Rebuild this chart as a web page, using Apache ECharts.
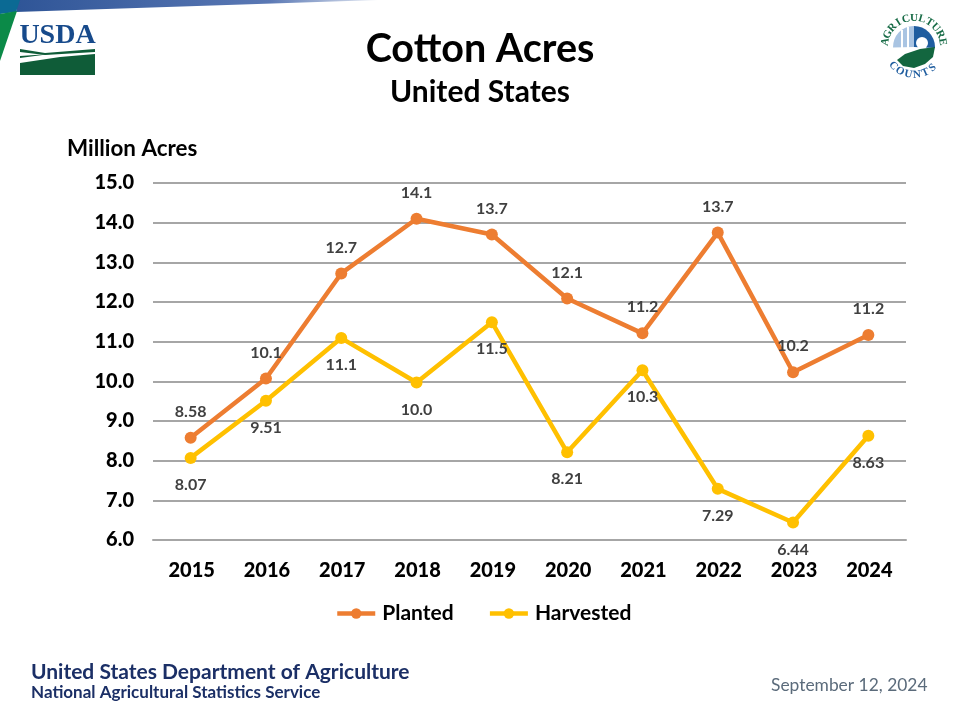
<!DOCTYPE html>
<html>
<head>
<meta charset="utf-8">
<style>html,body{margin:0;padding:0;background:#fff}#c{width:960px;height:720px}</style>
<script src="https://cdn.jsdelivr.net/npm/echarts@6/dist/echarts.min.js"></script>
</head>
<body>
<div id="c"></div>
<script>
const years = ['2015','2016','2017','2018','2019','2020','2021','2022','2023','2024'];
const planted = [8.58,10.07,12.72,14.10,13.70,12.09,11.21,13.75,10.23,11.17];
const harvested = [8.07,9.51,11.09,9.97,11.49,8.21,10.28,7.29,6.44,8.63];
const plantedLabels = ['8.58','10.1','12.7','14.1','13.7','12.1','11.2','13.7','10.2','11.2'];
const harvestedLabels = ['8.07','9.51','11.1','10.0','11.5','8.21','10.3','7.29','6.44','8.63'];

const FONT = 'Lato, "Open Sans", sans-serif';
const chart = echarts.init(document.getElementById('c'));

function arcText(word, cx, cy, r, startDeg, stepDeg, bottom, color) {
  return word.split('').map((ch, i) => {
    const deg = startDeg + i * stepDeg;
    const a = deg * Math.PI / 180;
    return {
      type: 'text', x: cx + r * Math.sin(a), y: cy - r * Math.cos(a),
      rotation: bottom ? -(deg - 180) * Math.PI / 180 : -a,
      style: { text: ch, font: 'bold 11px "Liberation Serif", serif', fill: color, align: 'center', verticalAlign: 'middle' }
    };
  });
}

const decorations = [
  // top band
  { type: 'polygon', shape: { points: [[18,0],[378,0],[16,12]] }, style: { fill: new echarts.graphic.LinearGradient(0,0,1,0,[{offset:0,color:'#2f5597'},{offset:0.7,color:'#5a78b4'},{offset:1,color:'#e4e9f3'}]) } },
  { type: 'polygon', shape: { points: [[0,0],[20,0],[16,12],[0,14]] }, style: { fill: '#0b6a94' } },
  { type: 'polygon', shape: { points: [[0,14],[17,11],[0,61]] }, style: { fill: '#0b8a48' } },
  // USDA logo
  { type: 'text', x: 57.5, y: 35.5, style: { text: 'USDA', font: 'bold 28px "Liberation Serif", serif', fill: '#174a8b', align: 'center', verticalAlign: 'middle' } },
  { type: 'polygon', shape: { points: [[20,63],[60,57],[95,54],[95,75],[20,75]] }, style: { fill: '#0f5c38' } },
  { type: 'polygon', shape: { points: [[20,49],[45,53],[95,49],[95,52],[45,55],[20,52]] }, style: { fill: '#0f5c38' } },
  { type: 'polygon', shape: { points: [[20,58],[50,54],[20,56]] }, style: { fill: '#0f5c38' } },
  // Agriculture Counts logo
  { type: 'sector', shape: { cx: 914, cy: 47, r: 21, r0: 0, startAngle: -Math.PI/2 - 1.6, endAngle: -Math.PI/2 }, style: { fill: '#a9c4e2' } },
  { type: 'sector', shape: { cx: 914, cy: 47, r: 21, r0: 0, startAngle: -Math.PI/2, endAngle: 0.05 }, style: { fill: '#1f5d9f' } },
  { type: 'rect', shape: { x: 901, y: 30, width: 2, height: 26 }, style: { fill: '#ffffff' } },
  { type: 'rect', shape: { x: 907, y: 27, width: 2, height: 26 }, style: { fill: '#ffffff' } },
  { type: 'circle', shape: { cx: 922, cy: 43, r: 6 }, style: { fill: '#ffffff' } },
  { type: 'polygon', shape: { points: [[897,60],[905,54],[920,49],[935,47],[933,57],[925,64],[914,68],[903,66]] }, style: { fill: '#13663f' } }
].concat(
  arcText('AGRICULTURE', 914, 47, 29, -80, 16, false, '#176b46'),
  arcText('COUNTS', 914, 47, 28, 228, -18, true, '#1f5d9f')
);

chart.setOption({
  animation: false,
  backgroundColor: '#ffffff',
  title: [
    { text: 'Cotton Acres', left: 480, top: 29, padding: 0, textAlign: 'center', textStyle: { fontFamily: FONT, fontWeight: 'bold', fontSize: 39.5, color: '#000' } },
    { text: 'United States', left: 480, top: 77, padding: 0, textAlign: 'center', textStyle: { fontFamily: FONT, fontWeight: 'bold', fontSize: 30, color: '#000' } },
    { text: 'United States Department of Agriculture', left: 31, top: 662, padding: 0, textStyle: { fontFamily: FONT, fontWeight: 'bold', fontSize: 21, color: '#1b2f66' } },
    { text: 'National Agricultural Statistics Service', left: 31, top: 684, padding: 0, textStyle: { fontFamily: FONT, fontWeight: 'bold', fontSize: 17, color: '#1b2f66' } },
    { text: 'September 12, 2024', left: 771, top: 677, padding: 0, textStyle: { fontFamily: FONT, fontWeight: 'normal', fontSize: 17.4, color: '#5b6b7b' } }
  ],
  grid: { left: 153, right: 54, top: 183, bottom: 180, containLabel: false },
  legend: {
    top: 598, left: 330, itemWidth: 38, itemHeight: 13, itemGap: 34,
    data: ['Planted','Harvested'],
    lineStyle: { width: 4.5 },
    textStyle: { fontFamily: FONT, fontWeight: 'bold', fontSize: 21, color: '#000', padding: [0,0,0,2] }
  },
  xAxis: {
    type: 'category', data: years, boundaryGap: true,
    axisTick: { show: false },
    axisLine: { lineStyle: { color: '#a6a6a6', width: 2 } },
    axisLabel: { fontFamily: FONT, fontWeight: 900, fontSize: 20, color: '#000', margin: 21, padding: [0,0,0,2] }
  },
  yAxis: {
    type: 'value', min: 6, max: 15, interval: 1,
    name: 'Million Acres', nameLocation: 'end', nameGap: 23,
    nameTextStyle: { fontFamily: FONT, fontWeight: 'bold', fontSize: 22.4, color: '#000', align: 'left', padding: [0,0,0,-86] },
    axisLine: { show: false }, axisTick: { show: false },
    splitLine: { lineStyle: { color: '#a6a6a6', width: 2 } },
    axisLabel: { fontFamily: FONT, fontWeight: 900, fontSize: 20, color: '#000', margin: 19, padding: [4,0,0,0], formatter: v => v.toFixed(1) }
  },
  series: [
    { name: 'Planted', type: 'line', data: planted, symbol: 'circle', symbolSize: 12,
      lineStyle: { color: '#ed7d31', width: 4.5 }, itemStyle: { color: '#ed7d31' },
      label: { show: true, position: 'top', distance: 12, fontFamily: FONT, fontWeight: 'bold', fontSize: 16, color: '#404040',
        formatter: p => plantedLabels[p.dataIndex] } },
    { name: 'Harvested', type: 'line', data: harvested, symbol: 'circle', symbolSize: 12,
      lineStyle: { color: '#ffc000', width: 4.5 }, itemStyle: { color: '#ffc000' },
      label: { show: true, position: 'bottom', distance: 13, fontFamily: FONT, fontWeight: 'bold', fontSize: 16, color: '#404040',
        formatter: p => harvestedLabels[p.dataIndex] } }
  ],
  graphic: { elements: decorations }
});
</script>
</body>
</html>
